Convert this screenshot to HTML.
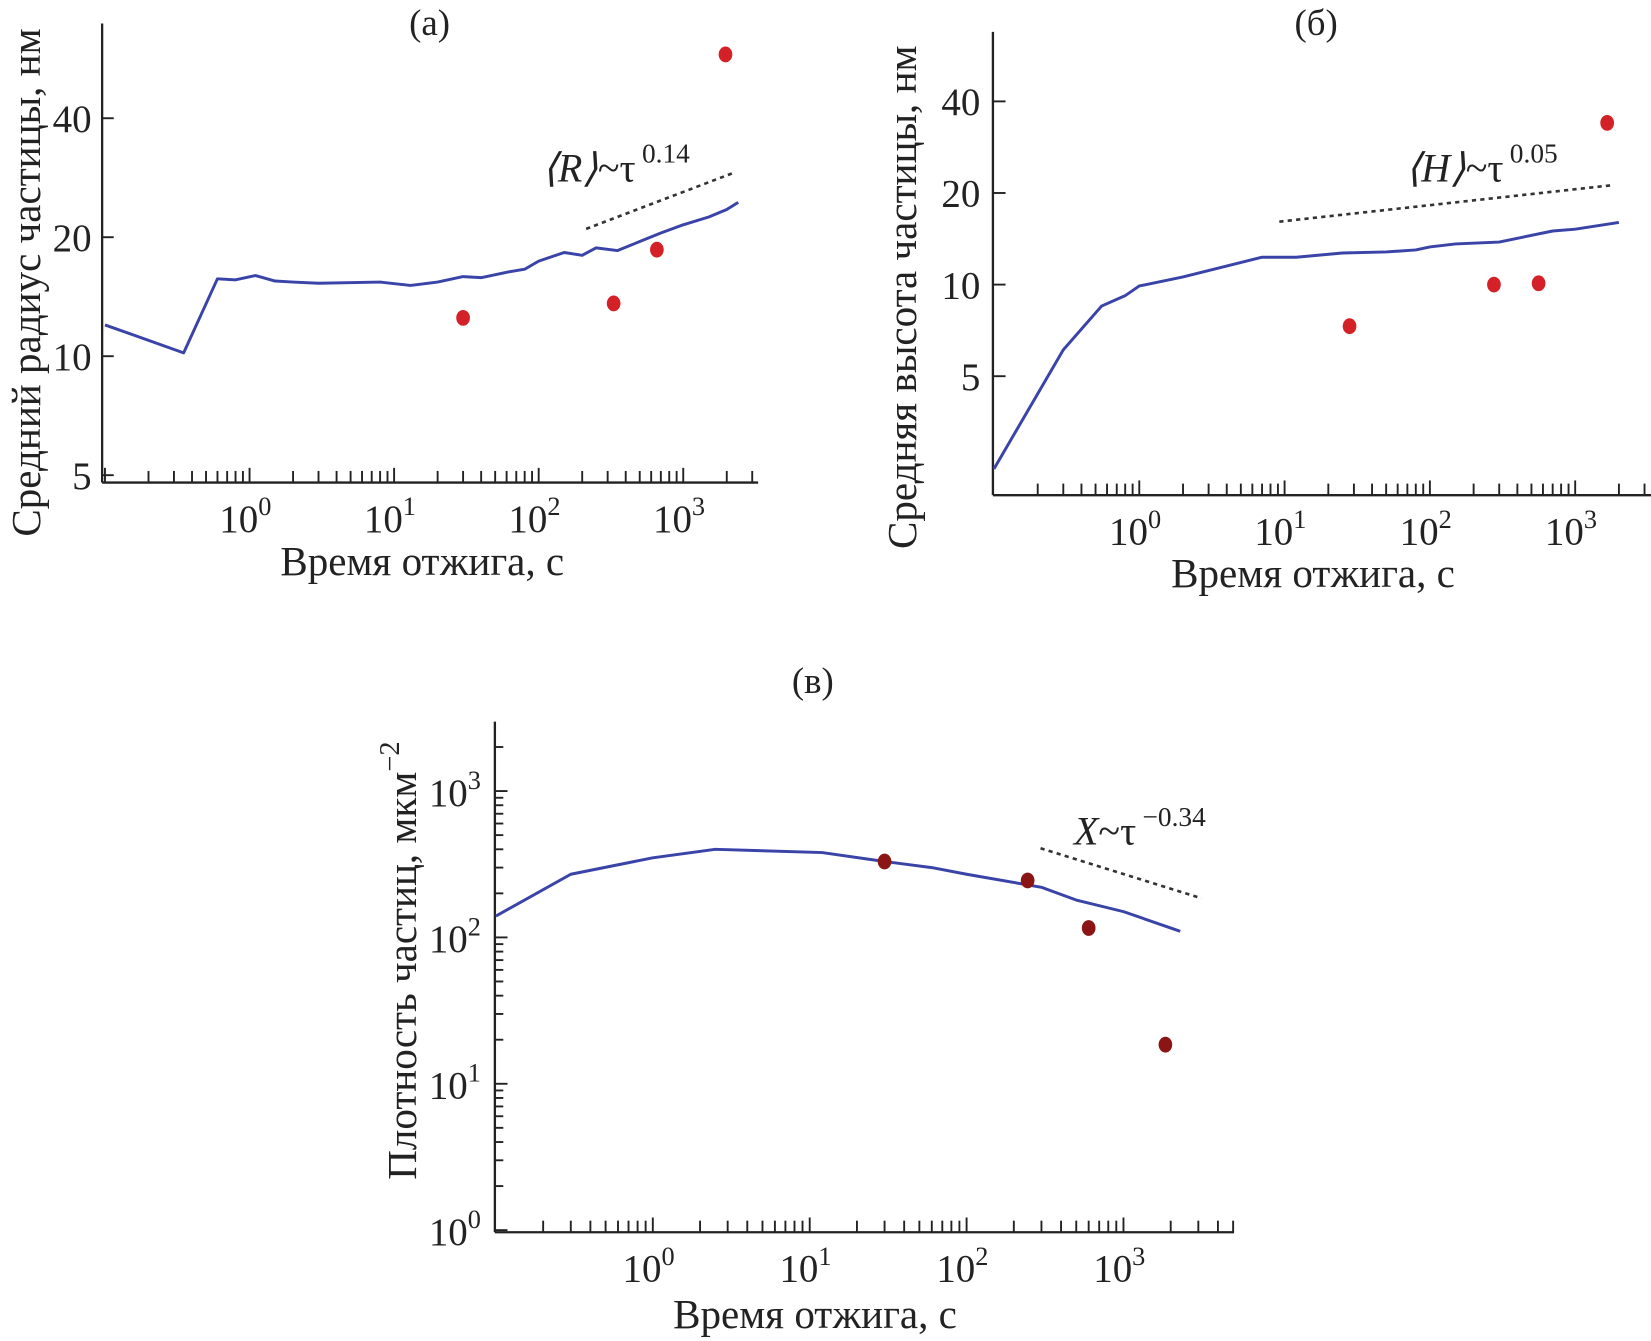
<!DOCTYPE html>
<html><head><meta charset="utf-8"><style>
html,body{margin:0;padding:0;background:#fff}
svg{display:block}
text{font-family:"Liberation Serif",serif;fill:#222}
</style></head><body>
<svg id="fig" width="1651" height="1341" viewBox="0 0 1568 1273" xmlns="http://www.w3.org/2000/svg">
<text x="408" y="33" font-size="35" text-anchor="middle">(a)</text>
<text x="1250" y="33" font-size="35" text-anchor="middle">(б)</text>
<text x="772" y="658" font-size="35" text-anchor="middle">(в)</text>
<text transform="translate(38,268) rotate(-90)" font-size="39" text-anchor="middle">Средний радиус частицы, нм</text>
<text transform="translate(870,282) rotate(-90)" font-size="39" text-anchor="middle">Средняя высота частицы, нм</text>
<text transform="translate(395,912) rotate(-90)" font-size="39" text-anchor="middle">Плотность частиц, мкм<tspan dy="-16" font-size="27">−2</tspan></text>
<text x="401" y="546" font-size="39" text-anchor="middle">Время отжига, с</text>
<text x="1247" y="557" font-size="39" text-anchor="middle">Время отжига, с</text>
<text x="774" y="1261" font-size="39" text-anchor="middle">Время отжига, с</text>
<text x="515" y="172" font-size="38"><tspan font-style="italic">⟨R⟩</tspan>~τ<tspan dx="6" dy="-18" font-size="26">0.14</tspan></text>
<text x="1335" y="172" font-size="38"><tspan font-style="italic">⟨H⟩</tspan>~τ<tspan dx="6" dy="-18" font-size="26">0.05</tspan></text>
<text x="1020" y="802" font-size="38"><tspan font-style="italic">X</tspan>~τ<tspan dx="6" dy="-18" font-size="26">−0.34</tspan></text>
</svg>
<script>
// ---- data: panel a (mean radius, nm) ----
const aTimes = [0.1,0.35,0.6,0.8,1.1,1.5,2,3,8,13,20,30,40,60,80,100,150,200,250,350,500,700,1000,1500,2000,2400];
const aRadius = [12,10.2,15.7,15.6,16,15.5,15.4,15.3,15.4,15.1,15.4,15.9,15.8,16.3,16.6,17.4,18.3,18,18.8,18.5,19.5,20.5,21.5,22.5,23.5,24.5];
const aExpTimes = [30,330,657,1960];
const aExpRadius = [12.5,13.6,18.6,58];
const aFitTimes = [213,2170];
const aFitRadius = [21,29];
const aYTicks = [5,10,20,40];
// ---- data: panel b (mean height, nm) ----
const bTimes = [0.1,0.3,0.55,0.8,1,2,7,12,25,50,80,100,150,300,400,700,1000,2000];
const bHeight = [2.48,6.1,8.5,9.2,9.9,10.6,12.3,12.3,12.7,12.8,13,13.3,13.6,13.8,14.2,15,15.2,16];
const bExpTimes = [28,276,560,1660];
const bExpHeight = [7.3,10,10.1,34];
const bFitTimes = [9.2,1770];
const bFitHeight = [16.1,21.2];
const bYTicks = [5,10,20,40];
// ---- data: panel c (density, um^-2) ----
const cTimes = [0.1,0.3,1,2.5,12,30,60,100,300,500,1000,2300];
const cDensity = [140,270,350,400,380,330,300,270,220,180,150,110];
const cExpTimes = [30,245,600,1850];
const cExpDensity = [330,245,116,18.5];
const cFitTimes = [296,3140];
const cFitDensity = [407,185];
const xDecades = [0,1,2,3];
const cYDecades = [0,1,2,3];

const NS='http://www.w3.org/2000/svg';
const svg=document.getElementById('fig');
function mk(tag,attrs){const e=document.createElementNS(NS,tag);for(const k in attrs)e.setAttribute(k,attrs[k]);svg.appendChild(e);return e;}

function panel(p){
  const xs=t=>p.x0+p.dec*Math.log10(t);
  const ys=v=>p.yBase-p.yUnit*p.ylog(v);
  let e=mk('line',{x1:p.left,y1:p.top,x2:p.left,y2:p.bottom,stroke:'#222','stroke-width':2.2});
  
  
  e=mk('line',{x1:p.left,y1:p.bottom,x2:p.right,y2:p.bottom,stroke:'#222','stroke-width':2.2});
  
  
  for(let d=-1;d<=3;d++){for(let m=1;m<=9;m++){const t=m*Math.pow(10,d);const x=xs(t);if(x<=p.left+2||x>p.right)continue;
    e=mk('line',{x1:x,y1:p.bottom,x2:x,y2:p.bottom-(m===1?14:11),stroke:'#222','stroke-width':1.8});
    
    }}
  xDecades.forEach(d=>{const x=xs(Math.pow(10,d));
    e=mk('text',{x:x-4,y:p.bottom+p.xlabOff,'font-size':37,'text-anchor':'middle'});
    e.innerHTML='10<tspan dy="-16" font-size="25">'+d+'</tspan>';
    
    });
  p.yTicks(ys,mk);
  let dStr='';p.times.forEach((t,i)=>{dStr+=(i?'L':'M')+xs(t).toFixed(1)+','+ys(p.vals[i]).toFixed(1);});
  e=mk('path',{d:dStr,fill:'none',stroke:'#3a44a8','stroke-width':p.lw,'stroke-linejoin':'round'});
  
  
  e=mk('line',{x1:xs(p.fitT[0]),y1:ys(p.fitV[0]),x2:xs(p.fitT[1]),y2:ys(p.fitV[1]),stroke:'#333','stroke-width':2.5,'stroke-dasharray':'4 4'});
  
  
  p.expT.forEach((t,i)=>{
    e=mk('ellipse',{cx:xs(t),cy:ys(p.expV[i]),rx:6.5,ry:7.5,fill:p.dot});
    
    });
}

panel({id:'panel-a',left:97,right:720,top:22,bottom:458,x0:237,dec:137.3,yBase:338,yUnit:113,ylog:v=>Math.log2(v/10),xlabOff:47,lw:2.8,
  times:aTimes,vals:aRadius,expT:aExpTimes,expV:aExpRadius,fitT:aFitTimes,fitV:aFitRadius,dot:'#d42027',
  yTicks:(ys,mk)=>aYTicks.forEach(v=>{const y=ys(v);
    let e=mk('line',{x1:97,y1:y,x2:108,y2:y,stroke:'#222','stroke-width':1.8});
    
    
    e=mk('text',{x:87,y:y+13,'font-size':37,'text-anchor':'end'});e.textContent=v;
    
    })});
panel({id:'panel-b',left:943,right:1568,top:30,bottom:470,x0:1082,dec:138,yBase:270,yUnit:87,ylog:v=>Math.log2(v/10),xlabOff:47,lw:2.8,
  times:bTimes,vals:bHeight,expT:bExpTimes,expV:bExpHeight,fitT:bFitTimes,fitV:bFitHeight,dot:'#d42027',
  yTicks:(ys,mk)=>bYTicks.forEach(v=>{const y=ys(v);
    let e=mk('line',{x1:943,y1:y,x2:955,y2:y,stroke:'#222','stroke-width':1.8});
    
    
    e=mk('text',{x:931,y:y+13,'font-size':37,'text-anchor':'end'});e.textContent=v;
    
    })});
panel({id:'panel-c',left:470,right:1172,top:685,bottom:1170,x0:620,dec:149,yBase:1168,yUnit:139,ylog:v=>Math.log10(v),xlabOff:47,lw:2.8,
  times:cTimes,vals:cDensity,expT:cExpTimes,expV:cExpDensity,fitT:cFitTimes,fitV:cFitDensity,dot:'#8b1414',
  yTicks:(ys,mk)=>{cYDecades.forEach(d=>{for(let m=1;m<=9;m++){const v=m*Math.pow(10,d);const y=ys(v);if(y<685)continue;
      let e=mk('line',{x1:470,y1:y,x2:m===1?482:478,y2:y,stroke:'#222','stroke-width':1.8});
      
      }
    const e=mk('text',{x:432,y:ys(Math.pow(10,d))+14,'font-size':37,'text-anchor':'middle'});
    e.innerHTML='10<tspan dy="-16" font-size="25">'+d+'</tspan>';
    
    });}});
</script>
</body></html>
